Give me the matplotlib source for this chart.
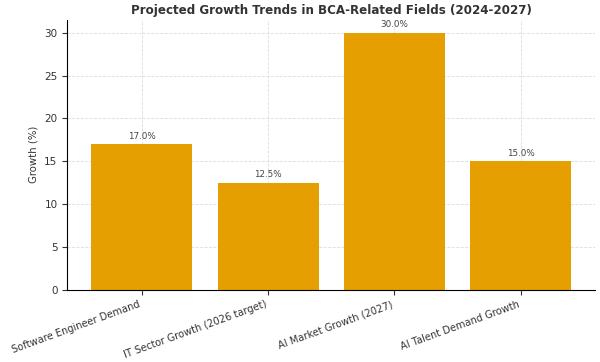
import matplotlib
matplotlib.use("Agg")
import matplotlib.pyplot as plt

categories = ["Software Engineer Demand", "IT Sector Growth (2026 target)",
              "AI Market Growth (2027)", "AI Talent Demand Growth"]
values = [17.0, 12.5, 30.0, 15.0]

fig, ax = plt.subplots(figsize=(6, 3.62), dpi=100)
bars = ax.bar(categories, values, color="#E69F00", width=0.8, zorder=2)
for b, v in zip(bars, values):
    ax.text(b.get_x() + b.get_width() / 2, v + 0.4, f"{v:.1f}%",
            ha="center", va="bottom", fontsize=6.3, color="#444444")
ax.set_title("Projected Growth Trends in BCA-Related Fields (2024-2027)",
             fontsize=8.6, fontweight="bold", color="#333333", pad=4)
ax.set_ylabel("Growth (%)", fontsize=7.3, color="#333333")
ax.set_ylim(0, 31.5)
ax.grid(True, linestyle="--", color="#dddddd", linewidth=0.6, zorder=0)
ax.tick_params(labelsize=7.5, colors="#333333")
plt.setp(ax.get_xticklabels(), rotation=20, ha="right", fontsize=7.1)
for s in ["top", "right"]:
    ax.spines[s].set_visible(False)
plt.subplots_adjust(left=0.112, right=0.992, top=0.945, bottom=0.2)
fig.savefig("out.png", dpi=100)
